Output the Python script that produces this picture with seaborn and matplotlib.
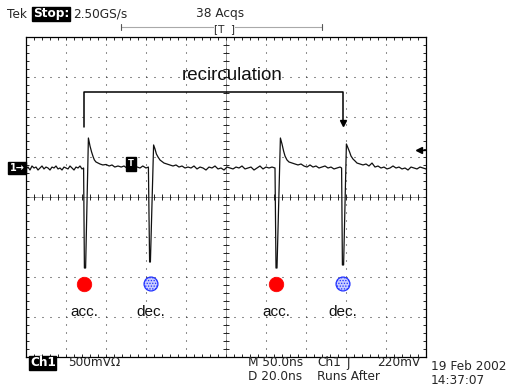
import numpy as np
import matplotlib
matplotlib.use("Agg")
import matplotlib.pyplot as plt
from matplotlib.lines import Line2D
from matplotlib.ticker import MultipleLocator
import seaborn as sb

W, H = 511, 387

# ch1 trace: time in ns, voltage in mV (0 = ch1 ground marker)
TIME_NS = [
    -250, -247.5, -245, -242.5, -240, -237.5, -235, -232.5, -230, -227.5,
    -225, -222.5, -220, -217.5, -215, -212.5, -210, -207.5, -205, -202.5,
    -200, -197.5, -195, -192.5, -190, -187.5, -185, -182.5, -180,
    # acc. pulse 1
    -178, -177, -175.5, -172, -170, -168, -166, -164.5, -162.5, -160,
    -157.5, -154, -150, -146, -142.5, -139, -135, -131, -127.5, -124,
    -119, -111, -107.5, -104, -100, -97,
    # dec. pulse 1
    -95.5, -94.5, -90.5, -88.75, -87, -85, -82.5, -80, -77.5, -73.75,
    -70, -66.25, -62.5, -58.75, -55, -51.25, -47.5, -43.75, -40, -36.25,
    -32.5, -28.75, -25, -21.25, -17.5, -13.75, -10, -6.25, -2.5, 1.25,
    5, 8.75, 12.5, 16.25, 20, 23.75, 27.5, 31.25, 35, 38.75,
    42.5, 46.25, 50, 53.75, 57.5, 61.25,
    # acc. pulse 2
    62.5, 63.75, 68, 70, 72, 73.75, 76.25, 78.75, 82.5, 86.25,
    90, 93.75, 97.5, 101.25, 105, 108.75, 112.5, 116.25, 120, 123.75,
    127.5, 131.25, 135, 138.75, 142.5, 144.5,
    # dec. pulse 2
    145.5, 147, 150.5, 152.5, 154.5, 156.25, 158.75, 161.25, 163.75, 167.5,
    171.25, 175, 178.75, 182.5, 186.25, 190, 193.75, 197.5, 201.25, 205,
    208.75, 212.5, 216.25, 220, 223.75, 227.5, 231.25, 235, 238.75, 242.5,
    246.25, 250,
]
CH1_MV = [
    -12, 12, -25, 25, 0, 12, -25, 0, 25, -12,
    12, 0, -25, 12, 0, 25, -12, 0, -25, 12,
    0, -12, 25, 0, -25, 12, 0, 25, -12,
    0, -1250, -1250, 375, 275, 200, 138, 100, 75, 62,
    50, 38, 44, 25, 38, 12, 25, 12, 25, 0,
    12, 12, 0, 25, 0, 12,
    -1175, -1175, 288, 238, 175, 138, 100, 81, 62, 50,
    38, 25, 38, 12, 25, 0, 12, 0, 25, -12,
    12, 0, -25, 12, 0, 25, -12, 0, -25, 12,
    0, -12, 12, 0, 25, -12, 0, 12, -25, 0,
    25, -12, 12, 0, 12, 0,
    -1250, -1250, 375, 300, 212, 150, 100, 75, 62, 50,
    38, 50, 25, 12, 38, 12, 25, 0, 12, 25,
    0, 12, -12, 0, 12, 0,
    -1212, -1212, 300, 250, 200, 150, 112, 88, 62, 50,
    38, 50, 25, 62, 12, 25, 0, 12, -12, 0,
    25, 0, 12, -12, 0, -25, 12, 0, -12, 12,
    0, -12,
]

ACC_NS = [-177.5, 62.5]
DEC_NS = [-93.75, 146.25]
ACC_LABELS = ["acc.", "acc."]
DEC_LABELS = ["dec.", "dec."]
BRACKET_NS = [-177.5, 146.25]
TRIGGER_MV = 220
TRIGGER_POS_NS = -118.75

# screen: 10 div x 50 ns, 8 div x 500 mV, ch1 ground 0.725 div above centre
X_LIM = (-250, 250)
Y_LIM = (-2362.5, 1637.5)
Y_CENTER = -362.5
MARKER_MV = -1450
LABEL_MV = -1850
BRACKET_TOP_MV = 950
BRACKET_LOW_MV = 515
TITLE_NS = 7.5
TITLE_MV = 1100


def fig_text(fig, px, py, s, **kw):
    kw.setdefault("fontsize", 8.7)
    kw.setdefault("va", "center")
    fig.text(px / W, 1 - py / H, s, **kw)


def fig_line(fig, xs, ys, **kw):
    fig.add_artist(Line2D([x / W for x in xs], [1 - y / H for y in ys],
                          transform=fig.transFigure, **kw))


def main():
    sb.set_style("ticks")
    plt.rcParams["font.family"] = ["DejaVu Sans"]
    plt.rcParams["lines.scale_dashes"] = False
    plt.rcParams["hatch.linewidth"] = 0.6

    fig = plt.figure(figsize=(W / 100, H / 100), dpi=100, facecolor="white")
    ax = fig.add_axes([26 / W, 30 / H, 400 / W, 320 / H])
    ax.set_xlim(*X_LIM)
    ax.set_ylim(*Y_LIM)

    # graticule
    ax.xaxis.set_major_locator(MultipleLocator(50))
    ax.xaxis.set_minor_locator(MultipleLocator(10))
    ax.yaxis.set_major_locator(MultipleLocator(500, offset=137.5))
    ax.yaxis.set_minor_locator(MultipleLocator(100, offset=37.5))
    ax.tick_params(which="both", direction="in", length=2.2, width=0.7,
                   top=True, right=True, labelbottom=False, labelleft=False)
    ax.grid(True, which="major", color="#222222", lw=0.75, linestyle=(0, (0.72, 5.04)))
    for sp in ax.spines.values():
        sp.set_linewidth(0.9)
        sp.set_color("black")

    ax.axvline(0, color="#333333", lw=0.7, linestyle=(0, (0.72, 0.72)))
    ax.axhline(Y_CENTER, color="#333333", lw=0.7, linestyle=(0, (0.72, 0.72)))
    xt = np.arange(X_LIM[0], X_LIM[1] + 1, 10)
    yt = np.arange(Y_LIM[0], Y_LIM[1] + 1, 100)
    ax.plot(xt, np.full(len(xt), Y_CENTER), ls="none", marker="|", ms=4.5, mew=0.7, color="#222222")
    ax.plot(np.zeros(len(yt)), yt, ls="none", marker="_", ms=4.5, mew=0.7, color="#222222")

    # trace
    sb.lineplot(x=TIME_NS, y=CH1_MV, sort=False, estimator=None, color="#111111",
                lw=0.9, ax=ax)

    # acc / dec markers
    sb.scatterplot(x=ACC_NS, y=[MARKER_MV] * len(ACC_NS), color="#ff0000", s=110,
                   edgecolor="#ff0000", linewidth=0.5, ax=ax, legend=False, zorder=5)
    sb.scatterplot(x=DEC_NS, y=[MARKER_MV] * len(DEC_NS), color="#c8ccff", s=100,
                   edgecolor="#2233ff", linewidth=0.9, ax=ax, legend=False, zorder=5)
    ax.collections[-1].set_hatch("......")
    for x, s in zip(ACC_NS + DEC_NS, ACC_LABELS + DEC_LABELS):
        ax.text(x, LABEL_MV, s, ha="center", va="baseline", fontsize=11,
                family="Liberation Sans", color="#111111")

    # recirculation bracket
    ax.plot([BRACKET_NS[0], BRACKET_NS[0], BRACKET_NS[1], BRACKET_NS[1]],
            [BRACKET_LOW_MV, BRACKET_TOP_MV, BRACKET_TOP_MV, BRACKET_LOW_MV + 60],
            color="black", lw=1.1)
    ax.plot([BRACKET_NS[1]], [BRACKET_LOW_MV + 50], marker="v", ms=5, color="black")
    ax.text(TITLE_NS, TITLE_MV, "recirculation", ha="center", va="baseline",
            fontsize=13.5, family="Liberation Sans", color="#111111")

    # channel ground marker, trigger level, trigger position
    ax.text(-0.004, 0, "1\u2192", transform=ax.get_yaxis_transform(), ha="right", va="center",
            color="white", fontsize=7, fontweight="bold", clip_on=False,
            bbox=dict(boxstyle="square,pad=0.15", fc="black", ec="black"))
    ax.plot([0.983], [TRIGGER_MV], transform=ax.get_yaxis_transform(), marker="<",
            ms=5, color="black", clip_on=False)
    ax.plot([0.983, 0.997], [TRIGGER_MV, TRIGGER_MV], transform=ax.get_yaxis_transform(),
            color="black", lw=1)
    ax.text(TRIGGER_POS_NS, 50, "T", ha="center", va="center", color="white", fontsize=6,
            fontweight="bold", bbox=dict(boxstyle="square,pad=0.25", fc="black", ec="black"))

    ax.set_xlabel("")
    ax.set_ylabel("")

    # header
    fig_text(fig, 7, 14, "Tek")
    fig_text(fig, 33, 14, "Stop:", color="white", fontweight="bold",
             bbox=dict(boxstyle="square,pad=0.05", fc="black", ec="black"))
    fig_text(fig, 73, 14, "2.50GS/s")
    fig_text(fig, 196, 14, "38 Acqs")
    fig_line(fig, [121, 322], [27, 27], color="#555555", lw=0.8, ls=(0, (0.72, 0.72)))
    fig_line(fig, [121, 121], [24, 30], color="#555555", lw=0.8)
    fig_line(fig, [322, 322], [24, 30], color="#555555", lw=0.8)
    fig_text(fig, 214, 29.5, "[T  ]", fontsize=7.5,
             bbox=dict(boxstyle="square,pad=0.0", fc="white", ec="none"))

    # footer
    fig_text(fig, 30, 363, "Ch1", color="white", fontweight="bold",
             bbox=dict(boxstyle="square,pad=0.05", fc="black", ec="black"))
    fig_text(fig, 68, 363, "500mV\u03a9")
    fig_text(fig, 248, 363, "M 50.0ns")
    fig_text(fig, 317, 363, "Ch1")
    fig_text(fig, 346, 363, "\u0283")
    fig_text(fig, 377, 363, "220mV")
    fig_text(fig, 248, 376, "D 20.0ns")
    fig_text(fig, 317, 376, "Runs After")
    fig_text(fig, 431, 366, "19 Feb 2002")
    fig_text(fig, 431, 380, "14:37:07")

    fig.savefig("out.png", dpi=100, facecolor="white")
    plt.close(fig)


if __name__ == '__main__':
    main()
